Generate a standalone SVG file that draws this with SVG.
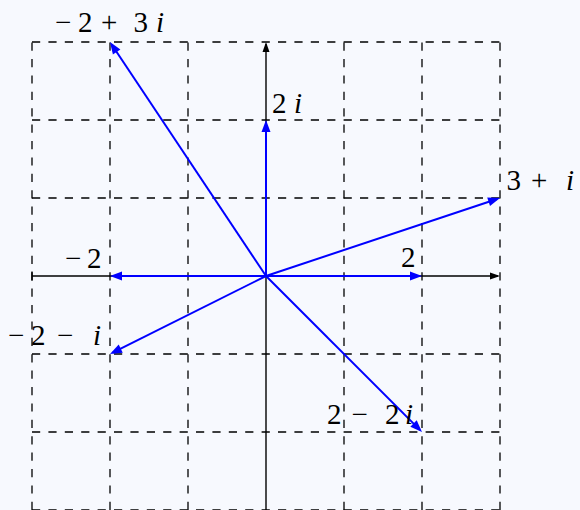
<svg xmlns="http://www.w3.org/2000/svg" width="580" height="510" viewBox="0 0 580 510">
<style>
.grid{stroke:#000;stroke-width:1.3;stroke-dasharray:8.2 8.2;fill:none}
.axis{stroke:#000;stroke-width:1.4;fill:none}
.vec{stroke:#0000ff;stroke-width:2;fill:none;marker-end:url(#ab)}
</style>
<defs>
<marker id="ab" markerUnits="userSpaceOnUse" markerWidth="14" markerHeight="10" refX="9" refY="4.5" orient="auto" overflow="visible">
<path d="M0,0 L12,4.5 L0,9 Z" fill="#0000ff"/>
</marker>
<marker id="ak" markerUnits="userSpaceOnUse" markerWidth="12" markerHeight="8" refX="8" refY="3.5" orient="auto" overflow="visible">
<path d="M0,0 L10,3.5 L0,7 Z" fill="#000"/>
</marker>
</defs>
<rect width="580" height="510" fill="#f7f9fe"/>
<g id="grid">
<path class="grid" d="M32,510V42M110,510V42M188,510V42M344,510V42M422,510V42M500,510V42"/>
<path class="grid" d="M32,42H500M32,120H500M32,198H500M32,354H500M32,432H500M32,510H500"/>
</g>
<g id="axes">
<line class="axis" x1="32" y1="276" x2="498" y2="276" marker-end="url(#ak)"/>
<line class="axis" x1="32" y1="271.5" x2="32" y2="280.5"/>
<line class="axis" x1="266" y1="510" x2="266" y2="44" marker-end="url(#ak)"/>
</g>
<g id="connectors">
<line class="vec" x1="266" y1="276" x2="111.66" y2="44.5"/>
<line class="vec" x1="266" y1="276" x2="266" y2="123"/>
<line class="vec" x1="266" y1="276" x2="497.15" y2="198.95"/>
<line class="vec" x1="266" y1="276" x2="113" y2="276"/>
<line class="vec" x1="266" y1="276" x2="419" y2="276"/>
<line class="vec" x1="266" y1="276" x2="112.68" y2="352.66"/>
<line class="vec" x1="266" y1="276" x2="419.88" y2="429.88"/>
</g>
<g font-family="Liberation Serif, DejaVu Serif, Times New Roman, serif" font-size="29" fill="#000">
<g id="n-m2p3i"><text y="32"><tspan x="55">−</tspan><tspan x="78">2 </tspan><tspan x="101">+ </tspan><tspan x="133.5">3 </tspan><tspan x="156" font-style="italic">i</tspan></text></g>
<g id="n-2i"><text y="113"><tspan x="272">2 </tspan><tspan x="294" font-style="italic">i</tspan></text></g>
<g id="n-3pi"><text y="190"><tspan x="506.5">3 </tspan><tspan x="531">+ </tspan><tspan x="566" font-style="italic">i</tspan></text></g>
<g id="n-m2"><text y="268"><tspan x="65">−</tspan><tspan x="87">2</tspan></text></g>
<g id="n-2"><text x="401" y="267">2</text></g>
<g id="n-m2mi"><text y="345"><tspan x="8">−</tspan><tspan x="31">2 </tspan><tspan x="57">− </tspan><tspan x="93" font-style="italic">i</tspan></text></g>
<g id="n-2m2i"><text y="424"><tspan x="327">2 </tspan><tspan x="351.5">− </tspan><tspan x="385">2</tspan><tspan x="405" font-style="italic">i</tspan></text></g>
</g>
</svg>
